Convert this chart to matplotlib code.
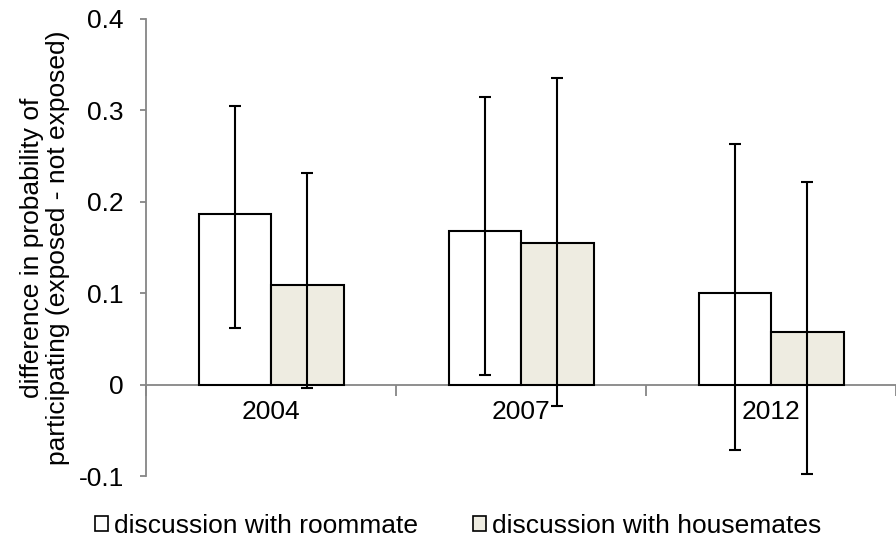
import numpy as np
import matplotlib
matplotlib.use("Agg")
from matplotlib import pyplot as plt
from matplotlib.patches import Patch

plt.rcParams['font.family'] = ['Liberation Sans', 'DejaVu Sans']

# dane
years = ["2004", "2007", "2012"]
roommate = [0.187, 0.168, 0.100]
roommate_hi = [0.305, 0.315, 0.263]
roommate_lo = [0.062, 0.011, -0.072]
housemates = [0.109, 0.155, 0.058]
housemates_hi = [0.231, 0.335, 0.222]
housemates_lo = [-0.004, -0.023, -0.098]

x = np.arange(len(years))
w = 0.29

fig = plt.figure(figsize=(8.96, 5.44), dpi=100)
ax = fig.add_axes([146/896, 68/544, 750/896, 457/544])

err_r = [np.array(roommate) - np.array(roommate_lo), np.array(roommate_hi) - np.array(roommate)]
err_h = [np.array(housemates) - np.array(housemates_lo), np.array(housemates_hi) - np.array(housemates)]

ax.bar(x - w/2, roommate, w, color="white", edgecolor="black", linewidth=1.5, zorder=2)
ax.bar(x + w/2, housemates, w, color="#EEECE1", edgecolor="black", linewidth=1.5, zorder=2)
ax.errorbar(x - w/2, roommate, yerr=err_r, fmt="none", ecolor="black", elinewidth=1.5, capsize=4.5, capthick=1.5, zorder=3)
ax.errorbar(x + w/2, housemates, yerr=err_h, fmt="none", ecolor="black", elinewidth=1.5, capsize=4.5, capthick=1.5, zorder=3)

ax.set_xlim(-0.5, -0.5 + 750/253)
ax.set_ylim(-0.1, 0.4)
ax.set_yticks([-0.1, 0, 0.1, 0.2, 0.3, 0.4])
ax.set_yticklabels(["-0.1", "0", "0.1", "0.2", "0.3", "0.4"])

ax.spines['top'].set_visible(False)
ax.spines['right'].set_visible(False)
ax.spines['bottom'].set_position(('data', 0))
for s in ['left', 'bottom']:
    ax.spines[s].set_color("#868686")
    ax.spines[s].set_linewidth(1.3)
    ax.spines[s].set_zorder(1)

ax.set_xticks(x)
ax.set_xticklabels(years)
ax.set_xticks([-0.5, 0.5, 1.5, 2.5], minor=True)
ax.tick_params(axis='x', which='major', length=0, pad=11, labelsize=19)
ax.tick_params(axis='x', which='minor', length=8, color="#868686", width=1.3)
ax.tick_params(axis='y', length=4, color="#868686", width=1.3, labelsize=19, pad=12)

ax.set_ylabel("difference in probability of\nparticipating (exposed - not exposed)", fontsize=19,
              linespacing=1.1)
ax.yaxis.set_label_coords(-0.102, 0.5)

handles = [Patch(facecolor="white", edgecolor="black", linewidth=1.2),
           Patch(facecolor="#EEECE1", edgecolor="black", linewidth=1.2)]
fig.legend(handles, ["discussion with roommate", "discussion with housemates"],
           loc="center", bbox_to_anchor=(458/896, 1 - 526/544), ncol=2, frameon=False,
           fontsize=19, handlelength=0.5, handleheight=0.5, handletextpad=0.2,
           columnspacing=2.1, borderpad=0, borderaxespad=0)

plt.savefig("out.png", dpi=100)
plt.close()
